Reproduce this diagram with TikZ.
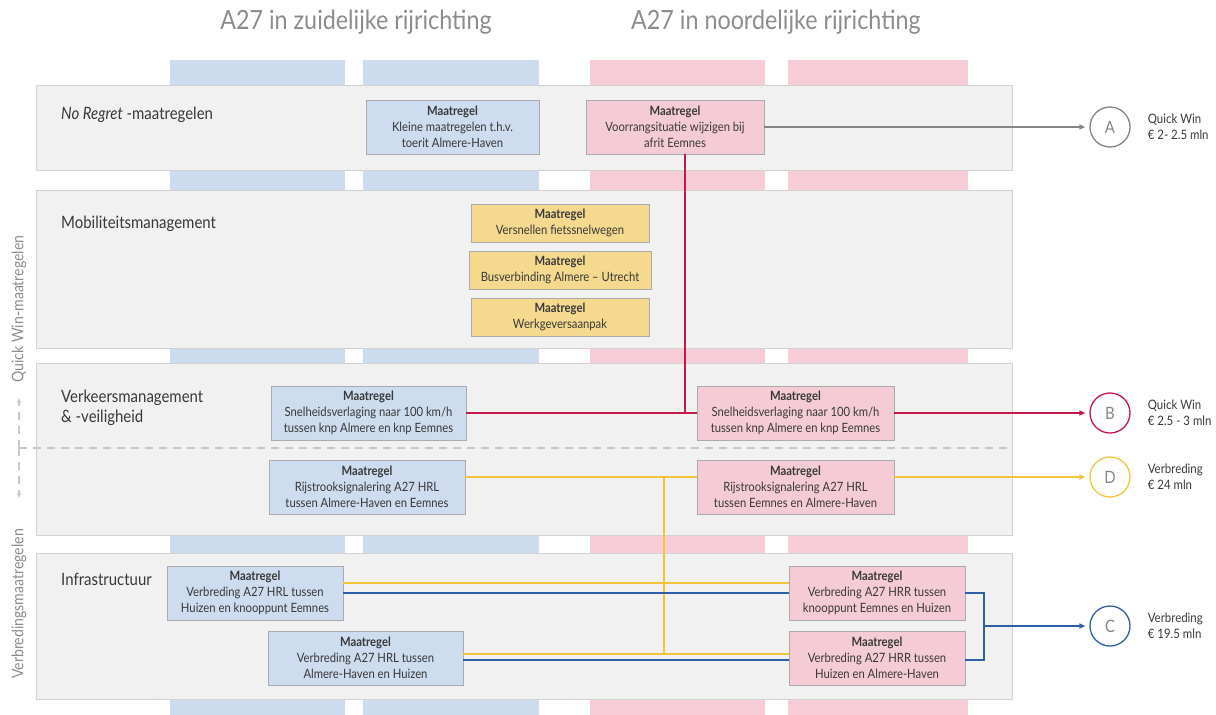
\documentclass[tikz,border=0pt]{standalone}
\usepackage{fontspec}
\setmainfont{Lato}[FakeStretch=0.88]
\usetikzlibrary{arrows.meta,positioning}

\definecolor{paneelvlak}{HTML}{F1F1F1}
\definecolor{paneelrand}{HTML}{D2D2D2}
\definecolor{kolomblauw}{HTML}{CCDBEE}
\definecolor{kolomroze}{HTML}{F6CDD7}
\definecolor{boxblauw}{HTML}{CDDCEE}
\definecolor{boxroze}{HTML}{F5CCD6}
\definecolor{boxgeel}{HTML}{F4D98F}
\definecolor{boxrand}{HTML}{A9ABAE}
\definecolor{lijnrood}{HTML}{C8174B}
\definecolor{lijngeel}{HTML}{F1C43C}
\definecolor{lijnblauw}{HTML}{2E5EA6}
\definecolor{lijngrijs}{HTML}{858585}
\definecolor{tekstgrijs}{HTML}{383838}
\definecolor{titelgrijs}{HTML}{8C8C8C}
\definecolor{streepgrijs}{HTML}{C8C8C8}

\tikzset{
  titel/.style={font=\fontsize{26.5}{30}\selectfont, text=titelgrijs},
  paneel/.style={fill=paneelvlak, draw=paneelrand, line width=0.8pt},
  rubriek/.style={anchor=west, inner sep=0pt, align=left, text=tekstgrijs,
    font=\fontsize{17}{20}\selectfont},
  zijtekst/.style={rotate=90, text=titelgrijs, font=\fontsize{16}{18}\selectfont},
  maatregel/.style={draw=boxrand, fill=#1, line width=0.7pt, minimum height=54pt,
    inner sep=1pt, align=center, text=tekstgrijs, font=\fontsize{12.8}{16}\selectfont},
  eindpunt/.style={circle, draw=#1, line width=1.3pt, minimum size=40pt, inner sep=0pt,
    fill=white, text=lijngrijs, font=\fontsize{17}{17}\selectfont},
  bedrag/.style={anchor=west, align=left, inner sep=0pt, text=tekstgrijs,
    font=\fontsize{13}{16}\selectfont},
  verbinding/.style={draw=#1, line width=1.8pt},
  pijl/.style={-{Triangle[length=6pt,width=5pt]}, shorten >=4pt},
  scheiding/.style={draw=streepgrijs, line width=1.3pt, dash pattern=on 8pt off 6pt}
}

\begin{document}
\begin{tikzpicture}[x=1pt, y=-1pt]
  \useasboundingbox (0,0) rectangle (1216,715);

  % Titels
  \node[titel] (titelzuid) at (356,22) {A27 in zuidelijke rijrichting};
  \node[titel] (titelnoord) at (776,22) {A27 in noordelijke rijrichting};

  % Rijstroken
  \fill[kolomblauw] (170,60) rectangle (345,715);
  \fill[kolomblauw] (363,60) rectangle (539,715);
  \fill[kolomroze] (590,60) rectangle (765,715);
  \fill[kolomroze] (788,60) rectangle (968,715);

  % Panelen
  \path[paneel] (36,85) rectangle (1012,170);
  \path[paneel] (36,190) rectangle (1012,348);
  \path[paneel] (36,363) rectangle (1012,535);
  \path[paneel] (36,553) rectangle (1012,699);

  \node[rubriek] (noregret) at (61,115) {\textit{No Regret} -maatregelen};
  \node[rubriek] (mobiliteit) at (61,224) {Mobiliteitsmanagement};
  \node[rubriek] (verkeer) at (61,408) {Verkeersmanagement\\\& -veiligheid};
  \node[rubriek] (infra) at (61,579) {Infrastructuur};

  % Zijkant
  \node[zijtekst] (quickwin) at (19,309) {Quick Win-maatregelen};
  \node[zijtekst] (verbreding) at (19,604) {Verbredingsmaatregelen};
  \coordinate (splitsing) at (19,448);
  \coordinate (splitsingeind) at (1008,448);
  \coordinate (pijlboven) at (19,398);
  \coordinate (pijlonder) at (19,498);
  \draw[scheiding] (splitsing) -- (splitsingeind);
  \draw[scheiding, -{Stealth[length=5pt,width=4pt]}] (splitsing) -- (pijlboven);
  \draw[scheiding, -{Stealth[length=5pt,width=4pt]}] (splitsing) -- (pijlonder);

  % Knooppunten van de lijnen
  \coordinate (roodknoop) at (685,413);
  \coordinate (geelknoop) at (664,477);
  \coordinate (blauwknoop) at (984,626);

  % Eindpunten
  \node[eindpunt=lijngrijs] (A) at (1110,127) {A};
  \node[eindpunt=lijnrood] (B) at (1110,413) {B};
  \node[eindpunt=lijngeel] (D) at (1110,477) {D};
  \node[eindpunt=lijnblauw] (C) at (1110,626) {C};
  \node[bedrag, right=17pt of A] (bedragA) {Quick Win\\€ 2- 2.5 mln};
  \node[bedrag, right=17pt of B] (bedragB) {Quick Win\\€ 2.5 - 3 mln};
  \node[bedrag, right=17pt of D] (bedragD) {Verbreding\\€ 24 mln};
  \node[bedrag, right=17pt of C] (bedragC) {Verbreding\\€ 19.5 mln};

  % Maatregelen
  \node[maatregel=boxblauw, minimum width=173pt] (kleine) at (452.5,127)
    {\textbf{Maatregel}\\Kleine maatregelen t.h.v.\\toerit Almere-Haven};
  \node[maatregel=boxroze, minimum width=178pt] (voorrang) at (675,127)
    {\textbf{Maatregel}\\Voorrangsituatie wijzigen bij\\afrit Eemnes};

  \node[maatregel=boxgeel, minimum width=178pt, minimum height=38pt] (fiets) at (560,223)
    {\textbf{Maatregel}\\Versnellen fietssnelwegen};
  \node[maatregel=boxgeel, minimum width=182pt, minimum height=38pt] (bus) at (560,270)
    {\textbf{Maatregel}\\Busverbinding Almere -- Utrecht};
  \node[maatregel=boxgeel, minimum width=178pt, minimum height=38pt] (werkgever) at (560,317)
    {\textbf{Maatregel}\\Werkgeversaanpak};

  \node[maatregel=boxblauw, minimum width=195pt] (snelzuid) at (368.5,413)
    {\textbf{Maatregel}\\Snelheidsverlaging naar 100 km/h\\tussen knp Almere en knp Eemnes};
  \node[maatregel=boxroze, minimum width=197pt] (snelnoord) at (795.5,413)
    {\textbf{Maatregel}\\Snelheidsverlaging naar 100 km/h\\tussen knp Almere en knp Eemnes};
  \node[maatregel=boxblauw, minimum width=196pt] (rijzuid) at (367,487)
    {\textbf{Maatregel}\\Rijstrooksignalering A27 HRL\\tussen Almere-Haven en Eemnes};
  \node[maatregel=boxroze, minimum width=197pt] (rijnoord) at (795.5,487)
    {\textbf{Maatregel}\\Rijstrooksignalering A27 HRL\\tussen Eemnes en Almere-Haven};

  \node[maatregel=boxblauw, minimum width=176pt] (hrlhuizen) at (255,593)
    {\textbf{Maatregel}\\Verbreding A27 HRL tussen\\Huizen en knooppunt Eemnes};
  \node[maatregel=boxblauw, minimum width=195pt] (hrlhaven) at (365.5,658)
    {\textbf{Maatregel}\\Verbreding A27 HRL tussen\\Almere-Haven en Huizen};
  \node[maatregel=boxroze, minimum width=176pt] (hrreemnes) at (877,593)
    {\textbf{Maatregel}\\Verbreding A27 HRR tussen\\knooppunt Eemnes en Huizen};
  \node[maatregel=boxroze, minimum width=176pt] (hrrhuizen) at (877,658)
    {\textbf{Maatregel}\\Verbreding A27 HRR tussen\\Huizen en Almere-Haven};
  \coordinate (geelonder) at ([yshift=4pt]hrlhaven.east);

  % Quick Win A
  \draw[verbinding=lijngrijs, line width=1.4pt, pijl] (voorrang) -- (A);

  % Quick Win B
  \draw[verbinding=lijnrood] (voorrang.south -| roodknoop) -- (roodknoop);
  \draw[verbinding=lijnrood] (snelzuid) -- (snelnoord);
  \draw[verbinding=lijnrood, pijl] (snelnoord) -- (B);

  % Verbreding D
  \draw[verbinding=lijngeel] ([yshift=10pt]rijzuid.east) -- ([yshift=10pt]rijnoord.west);
  \draw[verbinding=lijngeel] (geelknoop) -- (geelknoop |- geelonder);
  \draw[verbinding=lijngeel, pijl] ([yshift=10pt]rijnoord.east) -- (D);
  \draw[verbinding=lijngeel] ([yshift=10pt]hrlhuizen.east) -- ([yshift=10pt]hrreemnes.west);
  \draw[verbinding=lijngeel] (geelonder) -- ([yshift=4pt]hrrhuizen.west);

  % Verbreding C
  \draw[verbinding=lijnblauw] (hrlhuizen) -- (hrreemnes);
  \draw[verbinding=lijnblauw] ([yshift=-2pt]hrlhaven.east) -- ([yshift=-2pt]hrrhuizen.west);
  \draw[verbinding=lijnblauw, line width=2.6pt] (hrreemnes.east) -| (blauwknoop)
    |- ([yshift=-2pt]hrrhuizen.east);
  \draw[verbinding=lijnblauw, line width=1.4pt, pijl] (blauwknoop) -- (C);

\end{tikzpicture}
\end{document}
